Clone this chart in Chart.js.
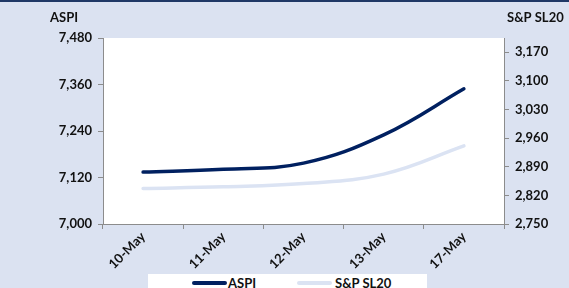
<!DOCTYPE html>
<html>
<head>
<meta charset="utf-8">
<script src="https://cdn.jsdelivr.net/npm/chart.js@4.4.0/dist/chart.umd.min.js"></script>
<style>
    html, body { margin: 0; padding: 0; }
    body { width: 569px; height: 288px; overflow: hidden; background: #dbe2f1; position: relative; }
    .top-rule { position: absolute; left: 0; top: 0; width: 569px; height: 2px; background: #1f3866; }
    .wrap { position: absolute; left: 0; top: 0; width: 569px; height: 288px; }
    .legend { position: absolute; left: 148px; top: 274px; width: 279px; height: 20px; background: #fff;
              font: bold 13px/13px Lato, sans-serif; color: #111; }
    .legend span { position: absolute; top: 3px; }
    .legend i { position: absolute; top: 7px; height: 4px; border-radius: 2px; }
</style>
</head>
<body>
<div class="top-rule"></div>
<div class="wrap"><canvas id="indexChart"></canvas></div>
<div class="legend">
    <i style="left:44px;width:35px;background:#002060"></i><span style="left:80px">ASPI</span>
    <i style="left:149px;width:35px;background:#dbe3f3"></i><span style="left:187px">S&amp;P SL20</span>
</div>
<script>
// data
const dates = ['10-May', '11-May', '12-May', '13-May', '17-May'];
const aspi = [7134, 7141, 7157, 7230, 7349];
const spsl20 = [2837, 2841, 2849, 2872, 2941];
const rightTicks = [2750, 2820, 2890, 2960, 3030, 3100, 3170];

const ctx = document.getElementById('indexChart').getContext('2d');

// paints the plot area white and the horizontal axis titles
const plotBackground = {
    id: 'plotBackground',
    beforeDraw(chart) {
        const a = chart.chartArea;
        const c = chart.ctx;
        c.save();
        c.fillStyle = '#ffffff';
        c.fillRect(a.left, a.top, a.right - a.left, a.bottom - a.top);
        c.restore();
    },
    afterDraw(chart) {
        const c = chart.ctx;
        c.save();
        c.fillStyle = '#111';
        c.font = 'bold 13px Lato, sans-serif';
        c.textBaseline = 'middle';
        c.textAlign = 'left';
        c.fillText('ASPI', 50, 18);
        c.fillText('S&P SL20', 507, 18);
        c.restore();
    }
};

const tickFont = { family: 'Lato, sans-serif', size: 13, weight: 'bold' };
const axisGrid = { drawOnChartArea: false, color: '#8c8c8c', tickLength: 5 };

new Chart(ctx, {
    type: 'line',
    data: {
        labels: dates,
        datasets: [{
            label: 'ASPI',
            data: aspi,
            yAxisID: 'y',
            borderColor: '#002060',
            borderWidth: 3.5,
            pointRadius: 0,
            tension: 0.4,
            borderCapStyle: 'round'
        }, {
            label: 'S&P SL20',
            data: spsl20,
            yAxisID: 'y1',
            borderColor: '#dbe3f3',
            borderWidth: 3.5,
            pointRadius: 0,
            tension: 0.4,
            borderCapStyle: 'round'
        }]
    },
    options: {
        responsive: true,
        maintainAspectRatio: false,
        animation: false,
        layout: { padding: { top: 38, left: 0, right: 0, bottom: 0 } },
        plugins: {
            legend: { display: false },
            tooltip: { enabled: false }
        },
        scales: {
            x: {
                offset: true,
                grid: { ...axisGrid, offset: true },
                border: { color: '#8c8c8c' },
                ticks: { font: tickFont, color: '#111', minRotation: 45, maxRotation: 45, padding: 0 },
                afterFit(scale) { scale.height = 64; }
            },
            y: {
                position: 'left',
                min: 7000,
                max: 7480,
                grid: axisGrid,
                border: { color: '#8c8c8c' },
                ticks: {
                    stepSize: 120,
                    font: tickFont,
                    color: '#111',
                    padding: 6,
                    callback: v => v.toLocaleString('en-US')
                },
                afterFit(scale) { scale.width = 103; }
            },
            y1: {
                position: 'right',
                min: 2750,
                max: 3205,
                grid: axisGrid,
                border: { color: '#8c8c8c' },
                ticks: {
                    font: tickFont,
                    color: '#111',
                    padding: 6,
                    callback: v => v.toLocaleString('en-US')
                },
                afterBuildTicks(scale) {
                    scale.ticks = rightTicks.map(v => ({ value: v }));
                },
                afterFit(scale) { scale.width = 65; }
            }
        }
    },
    plugins: [plotBackground]
});
</script>
</body>
</html>
